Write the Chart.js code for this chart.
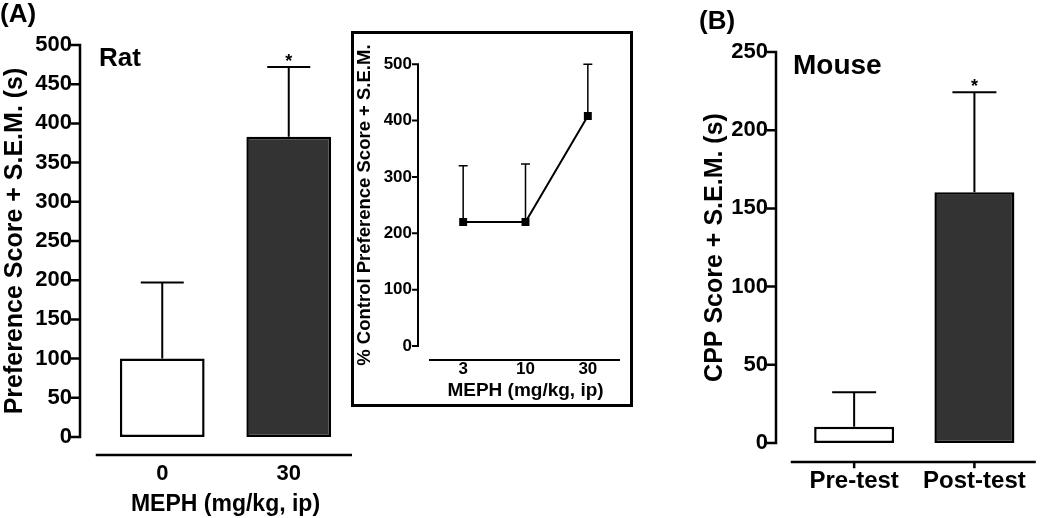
<!DOCTYPE html>
<html lang="en">
<head>
<meta charset="UTF-8">
<title>MEPH place preference</title>
<script src="https://cdn.jsdelivr.net/npm/chart.js"></script>
<style>
  body { margin: 0; background: #fff; width: 1050px; height: 518px; position: relative; overflow: hidden;
         font-family: 'Liberation Sans', Arial, sans-serif; }
  .box { position: absolute; }
  .lbl { position: absolute; font-weight: bold; line-height: 1; color: #000; white-space: nowrap; }
  #inset { border: 3px solid #000; background: #fff; }
</style>
</head>
<body>
<div class="box" style="left:0;top:0;width:352px;height:518px"><canvas id="ratChart"></canvas></div>
<div class="box" id="inset" style="left:351px;top:31px;width:276px;height:370px"><canvas id="insetChart"></canvas></div>
<div class="box" style="left:700px;top:0;width:350px;height:518px"><canvas id="mouseChart"></canvas></div>

<div class="lbl" style="left:0;top:0;font-size:26px">(A)</div>
<div class="lbl" style="left:99px;top:44px;font-size:26px">Rat</div>
<div class="lbl" style="left:699px;top:7px;font-size:26px">(B)</div>
<div class="lbl" style="left:793px;top:51px;font-size:28px">Mouse</div>

<script>
// rat, 0 vs 30 mg/kg
const ratDoses = ['0', '30'];
const ratMeans = [100, 383];
const ratSem = [97, 89];

// inset: % of control, by dose
const insetDoses = ['3', '10', '30'];
const insetMeans = [220, 220, 408];
const insetSem = [100, 103, 92];

// mouse, pre vs post test
const mouseGroups = ['Pre-test', 'Post-test'];
const mouseMeans = [10.4, 160.3];
const mouseSem = [22, 64];

const ratStars = ['', '*'];
const mouseStars = ['', '*'];

Chart.defaults.font.family = "'Liberation Sans', Arial, sans-serif";
Chart.defaults.font.weight = 'bold';
Chart.defaults.color = '#000';
Chart.defaults.animation = false;

// prism style: y axis pulled left of the plot, x axis line dropped below it,
// error bars (+SEM only) and significance stars
const prismAxes = {
  id: 'prismAxes',
  beforeDatasetsDraw(chart, args, o) {
    const ctx = chart.ctx;
    const y = chart.scales.y;
    const meta = chart.getDatasetMeta(0);
    ctx.save();
    ctx.strokeStyle = '#000';
    ctx.lineWidth = o.errWidth;
    meta.data.forEach((el, i) => {
      const top = y.getPixelForValue(o.means[i] + o.sem[i]);
      ctx.beginPath();
      ctx.moveTo(el.x, el.y);
      ctx.lineTo(el.x, top);
      ctx.moveTo(el.x - o.cap / 2, top);
      ctx.lineTo(el.x + o.cap / 2, top);
      ctx.stroke();
      if (o.stars && o.stars[i]) {
        ctx.fillStyle = '#000';
        ctx.font = 'bold 18px "Liberation Sans", Arial, sans-serif';
        ctx.textAlign = 'center';
        ctx.textBaseline = 'alphabetic';
        ctx.fillText(o.stars[i], el.x, top);
      }
    });
    ctx.restore();
  },
  afterDraw(chart, args, o) {
    const ctx = chart.ctx;
    const area = chart.chartArea;
    const y = chart.scales.y;
    const x = chart.scales.x;
    const ax = area.left - o.gap;
    ctx.save();
    ctx.strokeStyle = '#000';
    ctx.lineWidth = o.axisWidth;
    ctx.lineCap = 'square';
    ctx.beginPath();
    ctx.moveTo(ax, y.getPixelForValue(y.max));
    ctx.lineTo(ax, y.getPixelForValue(y.min));
    y.ticks.forEach(t => {
      const py = y.getPixelForValue(t.value);
      ctx.moveTo(ax - o.tickLen, py);
      ctx.lineTo(ax, py);
    });
    const ly = area.bottom + o.drop;
    ctx.moveTo(area.left - 2, ly);
    ctx.lineTo(area.right, ly);
    if (o.xTicks) {
      x.ticks.forEach((t, i) => {
        const px = x.getPixelForTick(i);
        ctx.moveTo(px, ly);
        ctx.lineTo(px, ly + 5);
      });
    }
    ctx.stroke();
    ctx.restore();
  }
};

function yScale(max, step, size, pad, width, title, titleSize) {
  return {
    min: 0, max: max,
    ticks: { stepSize: step, padding: pad, font: { size: size, weight: 'bold' }, color: '#000' },
    grid: { display: false, drawTicks: false },
    border: { display: false },
    title: { display: true, text: title, font: { size: titleSize, weight: 'bold' }, color: '#000', padding: 0 },
    afterFit: s => { s.width = width; }
  };
}

new Chart(document.getElementById('ratChart'), {
  type: 'bar',
  data: {
    labels: ratDoses,
    datasets: [{
      data: ratMeans,
      backgroundColor: ['#ffffff', '#333333'],
      borderColor: '#000',
      borderWidth: 2.5,
      borderSkipped: false,
      categoryPercentage: 1,
      barPercentage: 0.67
    }]
  },
  options: {
    responsive: true,
    maintainAspectRatio: false,
    layout: { padding: { top: 45, right: 0, bottom: 0, left: 0 } },
    scales: {
      x: {
        grid: { display: false, drawTicks: false },
        border: { display: false },
        ticks: { padding: 24, font: { size: 22, weight: 'bold' }, color: '#000' },
        title: { display: true, text: 'MEPH (mg/kg, ip)', font: { size: 23, weight: 'bold' }, color: '#000', padding: { top: 0, bottom: 0 } },
        afterFit: s => { s.height = 81; }
      },
      y: yScale(500, 50, 22, 27, 99, 'Preference Score + S.E.M. (s)', 25)
    },
    plugins: {
      legend: { display: false },
      tooltip: { enabled: false },
      prismAxes: { gap: 19, tickLen: 8, axisWidth: 2.5, drop: 18, xTicks: false,
                   means: ratMeans, sem: ratSem, cap: 43, errWidth: 2, stars: ratStars }
    }
  },
  plugins: [prismAxes]
});

new Chart(document.getElementById('insetChart'), {
  type: 'line',
  data: {
    labels: insetDoses,
    datasets: [{
      data: insetMeans,
      borderColor: '#000',
      borderWidth: 2,
      backgroundColor: '#000',
      pointStyle: 'rect',
      pointRadius: 5.6,
      pointBorderWidth: 0,
      tension: 0
    }]
  },
  options: {
    responsive: true,
    maintainAspectRatio: false,
    layout: { padding: { top: 25, right: 11, bottom: 0, left: 0 } },
    scales: {
      x: {
        offset: true,
        grid: { display: false, drawTicks: false },
        border: { display: false },
        ticks: { padding: 13, font: { size: 17, weight: 'bold' }, color: '#000' },
        title: { display: true, text: 'MEPH (mg/kg, ip)', font: { size: 19, weight: 'bold' }, color: '#000', padding: { top: 0, bottom: 2 } },
        afterFit: s => { s.height = 58; }
      },
      y: yScale(500, 100, 17, 20, 78, '% Control Preference Score + S.E.M.', 18.5)
    },
    plugins: {
      legend: { display: false },
      tooltip: { enabled: false },
      prismAxes: { gap: 14, tickLen: 5, axisWidth: 2, drop: 14, xTicks: false,
                   means: insetMeans, sem: insetSem, cap: 9, errWidth: 1.5, stars: null }
    }
  },
  plugins: [prismAxes]
});

new Chart(document.getElementById('mouseChart'), {
  type: 'bar',
  data: {
    labels: mouseGroups,
    datasets: [{
      data: mouseMeans,
      backgroundColor: ['#ffffff', '#333333'],
      borderColor: '#000',
      borderWidth: 2.5,
      borderSkipped: false,
      categoryPercentage: 1,
      barPercentage: 0.665
    }]
  },
  options: {
    responsive: true,
    maintainAspectRatio: false,
    layout: { padding: { top: 52, right: 1, bottom: 0, left: 0 } },
    scales: {
      x: {
        grid: { display: false, drawTicks: false },
        border: { display: false },
        ticks: { padding: 24, font: { size: 24, weight: 'bold' }, color: '#000' },
        afterFit: s => { s.height = 75; }
      },
      y: yScale(250, 50, 22, 26, 94, 'CPP Score + S.E.M. (s)', 25)
    },
    plugins: {
      legend: { display: false },
      tooltip: { enabled: false },
      prismAxes: { gap: 18, tickLen: 8, axisWidth: 2.5, drop: 19, xTicks: true,
                   means: mouseMeans, sem: mouseSem, cap: 44, errWidth: 2, stars: mouseStars }
    }
  },
  plugins: [prismAxes]
});
</script>
</body>
</html>
